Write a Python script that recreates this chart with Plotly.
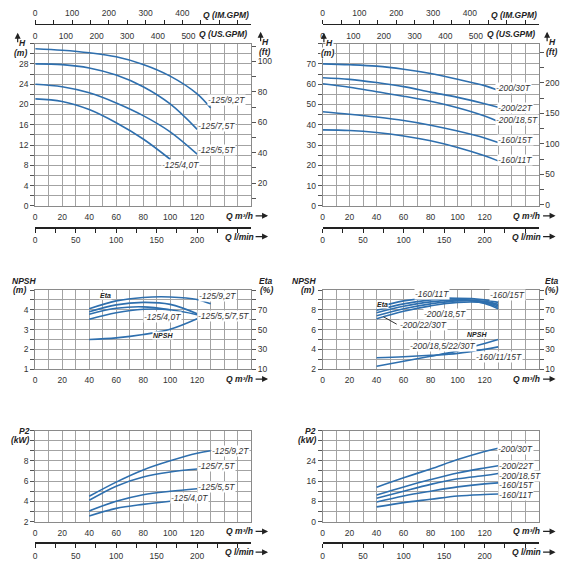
import plotly.graph_objects as go

# ---------------- data ----------------
# flow Q in m3/h
q_to130 = [0, 20, 40, 60, 80, 100, 120, 130]
q_to120 = [0, 20, 40, 60, 80, 100, 120]
q_to100 = [0, 20, 40, 60, 80, 100]

# head H (m) - 125 series
h_125_92 = [31.0, 30.7, 30.2, 29.4, 27.9, 25.6, 22.1, 19.3]
h_125_75 = [28.0, 27.85, 27.2, 25.8, 23.5, 20.1, 15.1]
h_125_55 = [24.0, 23.5, 22.3, 20.3, 17.8, 14.6, 10.2]
h_125_40 = [21.1, 20.6, 19.0, 16.4, 13.2, 9.2]

# head H (m) - 160 / 200 series
h_200_30 = [70.0, 69.6, 68.9, 67.4, 65.3, 62.4, 59.3, 57.0]
h_200_22 = [63.2, 62.4, 60.8, 58.8, 56.1, 53.5, 50.4, 48.6]
h_200_185 = [60.2, 58.5, 56.3, 54.1, 51.6, 48.4, 44.3, 41.6]
h_160_15 = [46.4, 45.2, 43.8, 42.1, 39.8, 36.9, 33.5, 31.2]
h_160_11 = [37.5, 37.2, 36.2, 34.5, 32.1, 28.8, 24.7, 22.2]

# eta / npsh / p2 curves start at 40 m3/h
qp_to130 = [40, 60, 80, 100, 120, 130]
qp_to120 = [40, 60, 80, 100, 120]
qp_to100 = [40, 60, 80, 100]

eta_125_92 = [71, 79, 82.5, 83, 80.5, 76]
eta_125_75 = [68, 75, 77.5, 75.5, 66]
eta_125_55 = [60.5, 67, 70.5, 70, 65]
eta_125_40 = [65.5, 71.5, 73, 70]
npsh_125 = [2.5, 2.58, 2.75, 3.02, 3.55]

eta_160_11 = [72.5, 79, 82, 81, 76.5, 71]
eta_160_15 = [69.5, 76, 80, 81.5, 80, 77.5]
eta_200_185 = [67, 73.5, 78, 80, 78.5, 75.5]
eta_200_22 = [64, 71, 76, 79, 78, 74]
eta_200_30 = [61, 68.5, 74, 77.5, 77, 72.5]
npsh_200 = [2.3, 2.8, 3.3, 3.85, 4.6, 5.0]
npsh_160 = [3.15, 3.25, 3.4, 3.6, 4.0, 4.25]

p2_125_92 = [4.5, 5.9, 7.1, 8.0, 8.75, 9.0]
p2_125_75 = [4.1, 5.5, 6.4, 6.9, 7.2]
p2_125_55 = [3.05, 4.0, 4.65, 5.0, 5.25]
p2_125_40 = [2.55, 3.3, 3.7, 4.0]

p2_200_30 = [13.6, 17.3, 20.8, 24.5, 27.7, 29.0]
p2_200_22 = [10.5, 13.7, 16.6, 19.2, 21.2, 22.1]
p2_200_185 = [9.2, 12.0, 14.7, 16.9, 18.2, 19.0]
p2_160_15 = [7.7, 10.1, 12.0, 13.7, 14.9, 15.3]
p2_160_11 = [5.8, 7.5, 8.8, 10.1, 10.7, 10.9]

# tick labels
q_m3h_ticks = [0, 20, 40, 60, 80, 100, 120]
q_lmin_ticks = [0, 50, 100, 150, 200]
us_gpm_ticks = [0, 100, 200, 300, 400, 500]
im_gpm_ticks = [0, 100, 200, 300, 400]
h_left_ticks = [0, 4, 8, 12, 16, 20, 24, 28]
ft_left_ticks = [20, 40, 60, 80, 100]
h_right_ticks = [0, 10, 20, 30, 40, 50, 60, 70]
ft_right_ticks = [0, 50, 100, 150, 200]
npsh_left_ticks = [1, 2, 3, 4]
npsh_right_ticks = [2, 4, 6, 8]
eta_ticks = [10, 30, 50, 70]
p2_left_ticks = [2, 4, 6, 8]
p2_right_ticks = [0, 8, 16, 24]

# ---------------- styling ----------------
PX = 570.0
OFF = 8.0   # page body margin of the html
BLUE = '#2e6fae'
GRID = '#a3a3a3'
AXL = '#8a8a8a'
TF = dict(family='Liberation Sans, Arial, sans-serif', size=8.5, color='#333')
LF = dict(family='Liberation Sans Narrow, Liberation Sans, sans-serif', size=8.5, color='#333', style='italic')
TITLEF = dict(family='Liberation Sans Narrow, Liberation Sans, sans-serif', size=8.5, color='#222', style='italic', weight='bold')

LEFT = (33.3, 250.0)
RIGHT = (321.7, 538.5)
TOP = (43, 207)
MID = (292, 372)
BOT = (434, 526)

US_GPM = 4.4029   # per m3/h
IM_GPM = 3.6662
LMIN = 200 / 120.0


def fx(p):
    return (p - OFF) / PX


def fy(p):
    return 1 - (p - OFF) / PX


def tick_set(lo, hi, step, labeled):
    n = int(round((hi - lo) / step))
    vals = [lo + i * step for i in range(n + 1)]
    text = [('%g' % v) if any(abs(v - l) < 1e-6 for l in labeled) else '' for v in vals]
    return vals, text


layout = dict(width=570, height=570, margin=dict(l=0, r=0, t=0, b=0),
              paper_bgcolor='white', plot_bgcolor='white', showlegend=False,
              annotations=[])
fig = go.Figure()


def axname(aid):
    return aid[0] + 'axis' + aid[1:]


def q_axis(xid, yid, cols):
    vals, text = tick_set(0, 160, 10, q_m3h_ticks)
    layout[axname(xid)] = dict(domain=[fx(cols[0]), fx(cols[1])], anchor=yid, range=[0, 160],
                               tickmode='array', tickvals=vals, ticktext=text, ticks='',
                               ticklabelstandoff=3, showgrid=True, gridcolor=GRID, gridwidth=1,
                               showline=True, linecolor=AXL, mirror=True, zeroline=False,
                               tickfont=TF, fixedrange=True)


def v_axis(yid, xid, rows, lo, hi, step, labeled):
    vals, text = tick_set(lo, hi, step, labeled)
    layout[axname(yid)] = dict(domain=[fy(rows[1]), fy(rows[0])], anchor=xid, range=[lo, hi],
                               tickmode='array', tickvals=vals, ticktext=text, ticks='outside',
                               ticklen=4, tickcolor='#555', showgrid=True, gridcolor=GRID,
                               gridwidth=1, showline=True, linecolor=AXL, mirror=True,
                               zeroline=False, tickfont=TF, fixedrange=True)


def side_axis(yid, over, xid, rng, lo, hi, step, labeled):
    vals, text = tick_set(lo, hi, step, labeled)
    layout[axname(yid)] = dict(overlaying=over, anchor=xid, side='right', range=rng,
                               tickmode='array', tickvals=vals, ticktext=text, ticks='outside',
                               ticklen=4, tickcolor='#555', showgrid=False, showline=False,
                               zeroline=False, tickfont=TF, fixedrange=True)
    fig.add_trace(go.Scatter(x=[], y=[], xaxis=xid, yaxis=yid, hoverinfo='skip'))


def extra_x(xid, over, yid, rng, vals, text, side, free_pos=None, ticks='', width=1):
    d = dict(overlaying=over, side=side, range=rng, tickmode='array', tickvals=vals,
             ticktext=text, ticks=ticks, ticklen=4, tickcolor='#222', showgrid=False,
             zeroline=False, tickfont=TF, fixedrange=True)
    if free_pos is None:
        d.update(anchor=yid, showline=False, ticklabelstandoff=2)
    else:
        d.update(anchor='free', position=fy(free_pos), showline=True, linecolor='#222',
                 linewidth=width)
    layout[axname(xid)] = d
    fig.add_trace(go.Scatter(x=[], y=[], xaxis=xid, yaxis=yid, hoverinfo='skip'))


def curve(q, v, xid, yid):
    fig.add_trace(go.Scatter(x=q, y=v, xaxis=xid, yaxis=yid, mode='lines',
                             line=dict(color=BLUE, width=1.6, shape='spline', smoothing=1.0),
                             hoverinfo='skip'))


def clabel(text, xid, yid, q, v, font=LF, anchor='left'):
    layout['annotations'].append(dict(text=text, x=q, y=v, xref=xid, yref=yid, showarrow=False,
                                      xanchor=anchor, yanchor='middle', font=font,
                                      bgcolor='white', borderpad=0))


def note(text, xp, yp, anchor='center', bg=None):
    a = dict(text=text, x=fx(xp), y=fy(yp), xref='paper', yref='paper', showarrow=False,
             xanchor=anchor, yanchor='middle', font=TITLEF)
    if bg:
        a.update(bgcolor=bg, borderpad=0)
    layout['annotations'].append(a)


def arrow(xt, yt, dx, dy):
    layout['annotations'].append(dict(text='', x=fx(xt), y=fy(yt), xref='paper', yref='paper',
                                      ax=dx, ay=dy, showarrow=True, arrowhead=2, arrowsize=1,
                                      arrowwidth=1.2, arrowcolor='#222'))


def flow_extras(cols, q_id, y_id, us_id, im_id, lmin_id, top_panel, bottom_px):
    if top_panel:
        extra_x(us_id, q_id, y_id, [0, 160 * US_GPM], us_gpm_ticks,
                [str(v) for v in us_gpm_ticks], 'top')
        v, t = tick_set(0, 550, 50, im_gpm_ticks)
        extra_x(im_id, q_id, y_id, [0, 160 * IM_GPM], v, t, 'top', free_pos=23, ticks='outside')
        note('Q (IM.GPM)', cols[1] - 25, 14)
        note('Q (US.GPM)', cols[1] - 28, 33)
    v, t = tick_set(0, 250, 25, q_lmin_ticks)
    extra_x(lmin_id, q_id, y_id, [0, 160 * LMIN], v, t, 'bottom', free_pos=bottom_px + 22,
            ticks='outside', width=2)
    note('Q l/min', cols[1] - 12, bottom_px + 31)
    arrow(cols[1] + 17, bottom_px + 31, -14, 0)


def q_title(cols, bottom_px):
    note('Q m³/h', cols[1] - 12, bottom_px + 10)
    arrow(cols[1] + 17, bottom_px + 10, -14, 0)


# ---------------- top left: H 125 ----------------
q_axis('x', 'y', LEFT)
v_axis('y', 'x', TOP, 0, 32, 2, h_left_ticks)
side_axis('y2', 'y', 'x', [5, 111.7], 10, 110, 10, ft_left_ticks)
flow_extras(LEFT, 'x', 'y', 'x2', 'x3', 'x4', True, TOP[1])
q_title(LEFT, TOP[1])
curve(q_to130, h_125_92, 'x', 'y')
curve(q_to120, h_125_75, 'x', 'y')
curve(q_to120, h_125_55, 'x', 'y')
curve(q_to100, h_125_40, 'x', 'y')
clabel('-125/9,2T', 'x', 'y', 127.5, 20.9)
clabel('-125/7,5T', 'x', 'y', 120, 15.7)
clabel('-125/5,5T', 'x', 'y', 120, 11.0)
clabel('-125/4,0T', 'x', 'y', 93, 8.0)
note('H', 21, 42)
note('(m)', 19, 52)
arrow(15.7, 32, 0, 11)
note('H', 264, 41)
note('(ft)', 263, 51)
arrow(259.5, 31, 0, 11)

# ---------------- top right: H 160/200 ----------------
q_axis('x5', 'y3', RIGHT)
v_axis('y3', 'x5', TOP, 0, 80, 5, h_right_ticks)
side_axis('y4', 'y3', 'x5', [-1.5, 264], 0, 250, 25, ft_right_ticks)
flow_extras(RIGHT, 'x5', 'y3', 'x6', 'x7', 'x8', True, TOP[1])
q_title(RIGHT, TOP[1])
curve(q_to130, h_200_30, 'x5', 'y3')
curve(q_to130, h_200_22, 'x5', 'y3')
curve(q_to130, h_200_185, 'x5', 'y3')
curve(q_to130, h_160_15, 'x5', 'y3')
curve(q_to130, h_160_11, 'x5', 'y3')
clabel('-200/30T', 'x5', 'y3', 128, 58.2)
clabel('-200/22T', 'x5', 'y3', 129.5, 48.4)
clabel('-200/18,5T', 'x5', 'y3', 128, 42.4)
clabel('-160/15T', 'x5', 'y3', 129.5, 32.7)
clabel('-160/11T', 'x5', 'y3', 129.5, 22.6)
note('H', 329, 42, bg='white')
note('(m)', 327, 52, bg='white')
arrow(323, 32, 0, 11)
note('H', 552, 41)
note('(ft)', 551, 51)
arrow(547, 31, 0, 11)

# ---------------- middle left: NPSH / Eta 125 ----------------
q_axis('x9', 'y5', LEFT)
v_axis('y5', 'x9', MID, 1, 5, 0.5, npsh_left_ticks)
side_axis('y6', 'y5', 'x9', [10, 90], 10, 90, 10, eta_ticks)
q_title(LEFT, MID[1])
curve(qp_to130, eta_125_92, 'x9', 'y6')
curve(qp_to120, eta_125_75, 'x9', 'y6')
curve(qp_to120, eta_125_55, 'x9', 'y6')
curve(qp_to100, eta_125_40, 'x9', 'y6')
curve(qp_to120, npsh_125, 'x9', 'y5')
clabel('-125/9,2T', 'x9', 'y6', 120.4, 83.8)
clabel('-125/5,5/7,5T', 'x9', 'y6', 120, 64.2)
clabel('-125/4,0T', 'x9', 'y6', 79.7, 62.6)
small = dict(TITLEF, size=7)
clabel('Eta', 'x9', 'y6', 52, 84, font=small, anchor='center')
clabel('NPSH', 'x9', 'y6', 94.4, 44, font=small, anchor='center')
note('NPSH', 8.5, 282.7, anchor='left')
note('(m)', 18, 292.3)
note('Eta', 265, 282.7)
note('(%)', 265, 292.3)

# ---------------- middle right: NPSH / Eta 160/200 ----------------
q_axis('x10', 'y7', RIGHT)
v_axis('y7', 'x10', MID, 2, 10, 1, npsh_right_ticks)
side_axis('y8', 'y7', 'x10', [10, 90], 10, 90, 10, eta_ticks)
q_title(RIGHT, MID[1])
curve(qp_to130, eta_160_11, 'x10', 'y8')
curve(qp_to130, eta_160_15, 'x10', 'y8')
curve(qp_to130, eta_200_185, 'x10', 'y8')
curve(qp_to130, eta_200_22, 'x10', 'y8')
curve(qp_to130, eta_200_30, 'x10', 'y8')
curve(qp_to130, npsh_200, 'x10', 'y7')
curve(qp_to130, npsh_160, 'x10', 'y7')
clabel('-160/11T', 'x10', 'y8', 67.4, 85.5)
clabel('-160/15T', 'x10', 'y8', 123, 84.8)
clabel('-200/18,5T', 'x10', 'y8', 74, 65.9)
clabel('-200/22/30T', 'x10', 'y8', 56.3, 54.4)
layout['annotations'].append(dict(text='', x=45, y=63, xref='x10', yref='y8', ax=56, ay=54.6,
                                  axref='x10', ayref='y8', showarrow=True, arrowhead=0,
                                  arrowwidth=1, arrowcolor='#333'))
clabel('Eta', 'x10', 'y8', 44, 75, font=small, anchor='center')
clabel('NPSH', 'x10', 'y8', 114, 45.3, font=small, anchor='center')
clabel('-200/18,5/22/30T', 'x10', 'y7', 64, 4.3)
clabel('-160/11/15T', 'x10', 'y7', 112.7, 3.27)
note('NPSH', 303.3, 282.7)
note('(m)', 306.7, 292.3)
note('Eta', 551.7, 282.7)
note('(%)', 551.7, 292.3)

# ---------------- bottom left: P2 125 ----------------
q_axis('x11', 'y9', LEFT)
v_axis('y9', 'x11', BOT, 2, 11, 1, p2_left_ticks)
flow_extras(LEFT, 'x11', 'y9', None, None, 'x12', False, BOT[1])
q_title(LEFT, BOT[1])
curve(qp_to130, p2_125_92, 'x11', 'y9')
curve(qp_to120, p2_125_75, 'x11', 'y9')
curve(qp_to120, p2_125_55, 'x11', 'y9')
curve(qp_to100, p2_125_40, 'x11', 'y9')
clabel('-125/9,2T', 'x11', 'y9', 130.4, 9.0)
clabel('-125/7,5T', 'x11', 'y9', 120, 7.5)
clabel('-125/5,5T', 'x11', 'y9', 120, 5.45)
clabel('-125/4,0T', 'x11', 'y9', 100, 4.35)
note('P2', 23, 434)
note('(kW)', 18.3, 444)

# ---------------- bottom right: P2 160/200 ----------------
q_axis('x13', 'y10', RIGHT)
v_axis('y10', 'x13', BOT, 0, 36, 4, p2_right_ticks)
flow_extras(RIGHT, 'x13', 'y10', None, None, 'x14', False, BOT[1])
q_title(RIGHT, BOT[1])
curve(qp_to130, p2_200_30, 'x13', 'y10')
curve(qp_to130, p2_200_22, 'x13', 'y10')
curve(qp_to130, p2_200_185, 'x13', 'y10')
curve(qp_to130, p2_160_15, 'x13', 'y10')
curve(qp_to130, p2_160_11, 'x13', 'y10')
clabel('-200/30T', 'x13', 'y10', 129, 28.7)
clabel('-200/22T', 'x13', 'y10', 130, 22.0)
clabel('-200/18,5T', 'x13', 'y10', 130, 18.2)
clabel('-160/15T', 'x13', 'y10', 130, 14.6)
clabel('-160/11T', 'x13', 'y10', 130, 10.4)
note('P2', 310, 434)
note('(kW)', 306.7, 444)

fig.update_layout(**layout)
fig.write_html("out.html")
